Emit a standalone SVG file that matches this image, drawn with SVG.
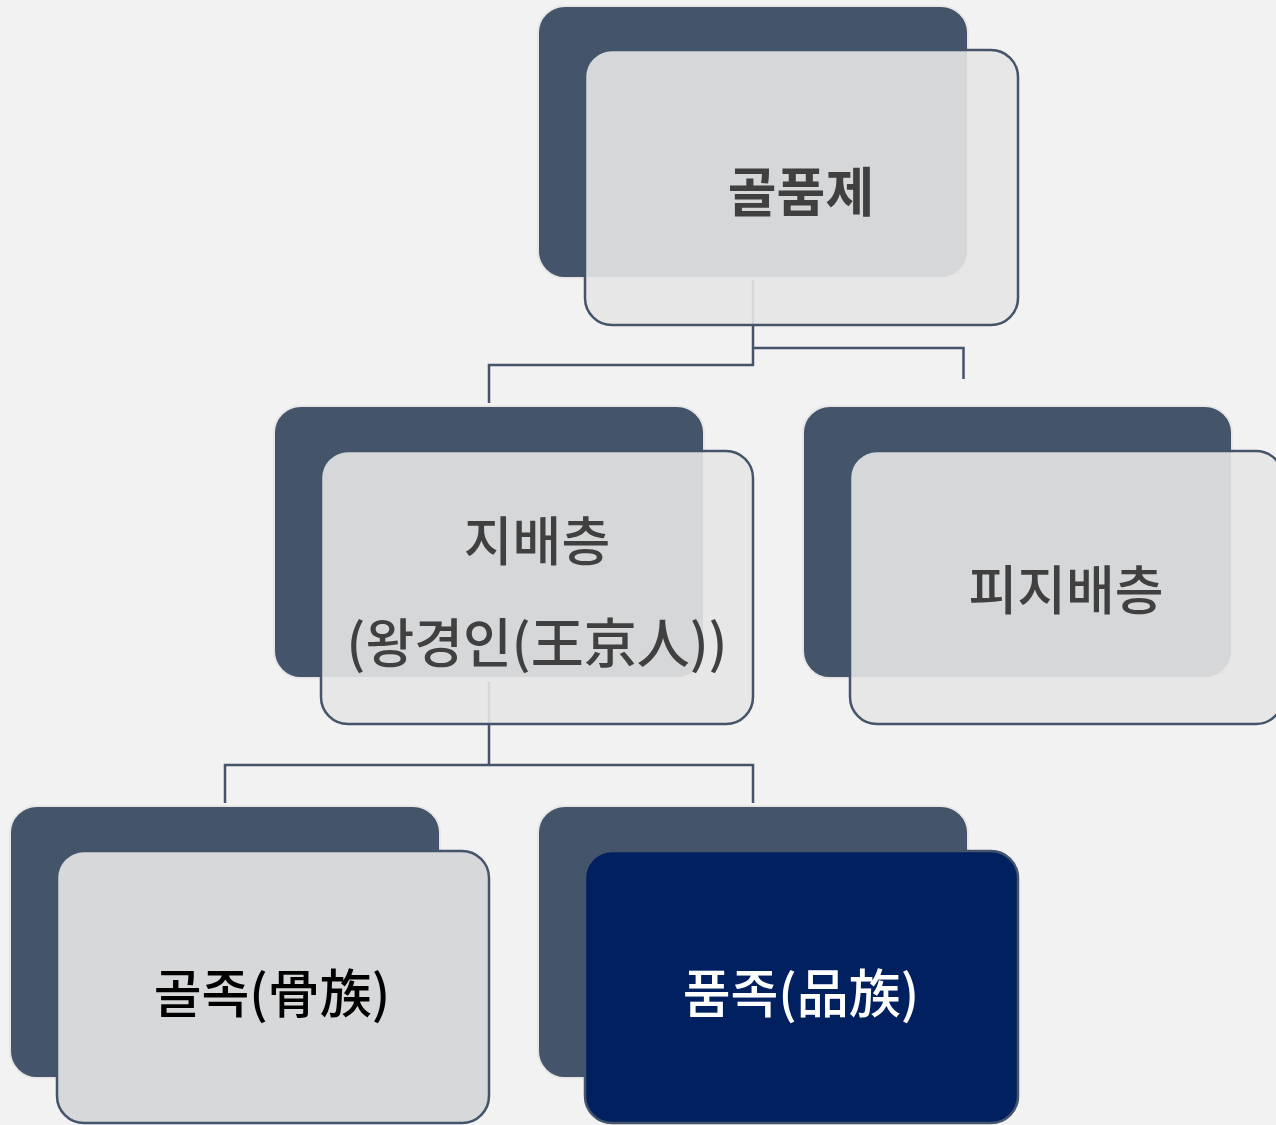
<svg xmlns="http://www.w3.org/2000/svg" width="1276" height="1125" viewBox="0 0 1276 1125">
<style>
.bg{fill:#f2f2f2}
.back{fill:#44546a;stroke:#e6e6e6;stroke-width:2}
.front{fill:#e6e6e6;fill-opacity:0.9;stroke:#44546a;stroke-width:2.5}
.frontg{fill:#d7d8da;stroke:#44546a;stroke-width:2.5}
.frontb{fill:#002060;stroke:#44546a;stroke-width:2.5}
.conn{fill:none;stroke:#44546a;stroke-width:2.5}
text{font-family:"Noto Sans CJK KR","Noto Sans",sans-serif;font-size:53px;text-anchor:middle}
.t1{fill:#404040;font-weight:bold}
.t2{fill:#404040;font-weight:500}
.tk{fill:#000000;font-weight:500;font-size:52px}
.tw{fill:#ffffff;font-weight:500;font-size:52px}
</style>
<rect class="bg" x="0" y="0" width="1276" height="1125"/>
<g id="connectors">
<polyline class="conn" points="753,280 753,365 489,365 489,403"/>
<polyline class="conn" points="753,348 963.5,348 963.5,379"/>
<polyline class="conn" points="489,682 489,765 225,765 225,803"/>
<polyline class="conn" points="489,765 753,765 753,803"/>
</g>
<g id="node-golpumje">
<rect class="back" x="538" y="6" width="430" height="272" rx="27"/>
<rect class="front" x="585" y="50" width="433" height="275" rx="27"/>
<text class="t1" x="801" y="212">골품제</text>
</g>
<g id="node-jibaecheung">
<rect class="back" x="274" y="406" width="430" height="272" rx="27"/>
<rect class="front" x="321" y="451" width="432" height="273" rx="27"/>
<text class="t2" x="537" y="561">지배층</text>
<text class="t2" x="537" y="663">(왕경인(王京人))</text>
</g>
<g id="node-pijibaecheung">
<rect class="back" x="803" y="406" width="429" height="272" rx="27"/>
<rect class="front" x="850" y="451" width="433" height="273" rx="27"/>
<text class="t2" x="1066" y="610">피지배층</text>
</g>
<g id="node-goljok">
<rect class="back" x="10" y="806" width="430" height="272" rx="27"/>
<rect class="frontg" x="57" y="851" width="432" height="272" rx="27"/>
<text class="tk" x="272" y="1013">골족(骨族)</text>
</g>
<g id="node-pumjok">
<rect class="back" x="538" y="806" width="430" height="272" rx="27"/>
<rect class="frontb" x="585" y="851" width="433" height="272" rx="27"/>
<text class="tw" x="801" y="1013">품족(品族)</text>
</g>
</svg>
